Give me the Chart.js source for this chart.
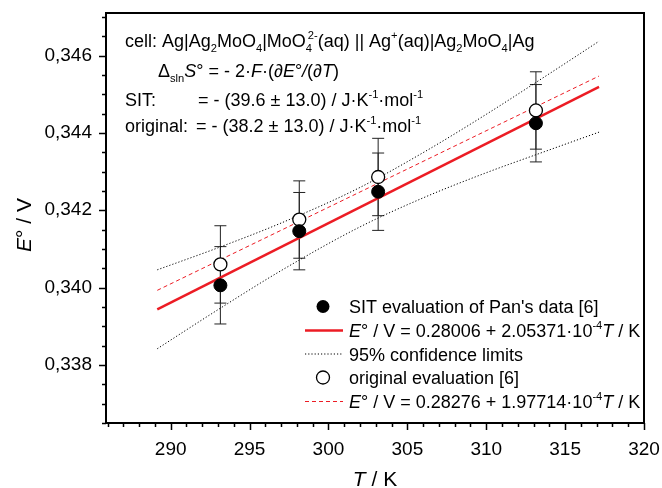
<!DOCTYPE html>
<html><head><meta charset="utf-8">
<script src="https://cdn.jsdelivr.net/npm/chart.js@4.4.0/dist/chart.umd.min.js"></script>
<style>html,body{margin:0;padding:0;background:#fff;}#wrap{width:662px;height:488px;position:relative;}</style>
</head><body><div id="wrap"><canvas id="c" width="662" height="488"></canvas></div>
<script>
// ---- data ----
const temperatures = [293.15, 298.15, 303.15, 313.15];
const eSIT  = [0.34006, 0.34146, 0.34248, 0.34425];
const errSIT = [0.001, 0.001, 0.001, 0.001];
const eOrig = [0.34060, 0.34176, 0.34286, 0.34458];
const errOrig = [0.001, 0.001, 0.001, 0.001];
const fitT = [289.15, 317.15];
const fitSIT  = [0.33944, 0.34519];
const fitOrig = [0.33993, 0.34547];
const confT     = [289.15, 293, 297, 301.9, 306, 310, 314, 317.15];
const confUpper = [0.34046, 0.34103, 0.34167, 0.34257, 0.34349, 0.34448, 0.34553, 0.34637];
const confLower = [0.33842, 0.33943, 0.34044, 0.34155, 0.34232, 0.34297, 0.34356, 0.34402];
const xTickValues = [290, 295, 300, 305, 310, 315, 320];
const yTickValues = [0.338, 0.340, 0.342, 0.344, 0.346];

const FONT = '"Liberation Sans", Arial, sans-serif';
const RED = '#ec1c24';

function pts(xs, ys){ return xs.map((x,i)=>({x:x, y:ys[i]})); }

function drawRich(ctx, x, y, segs, size){
  ctx.save();
  ctx.textBaseline = 'alphabetic';
  ctx.fillStyle = '#000';
  let cx = x;
  for (const s of segs){
    let fs = size, dy = 0;
    if (s.sub){ fs = size*0.62; dy = size*0.30; }
    if (s.sup){ fs = size*0.62; dy = -size*0.45; }
    ctx.font = (s.it ? 'italic ' : '') + fs + 'px ' + FONT;
    ctx.fillText(s.t, cx, y + dy);
    if (!s.stack) cx += ctx.measureText(s.t).width;
    else cx += 2;
  }
  ctx.restore();
  return cx;
}

const framePlugin = {
  id: 'frame',
  beforeDatasetsDraw(chart){
    const ctx = chart.ctx, xs = chart.scales.x, ys = chart.scales.y;
    ctx.save();
    ctx.strokeStyle = '#222';
    ctx.lineWidth = 1;
    const bars = (vals, errs) => {
      temperatures.forEach((t,i)=>{
        const px = xs.getPixelForValue(t);
        const y1 = ys.getPixelForValue(vals[i]+errs[i]);
        const y2 = ys.getPixelForValue(vals[i]-errs[i]);
        ctx.beginPath();
        ctx.moveTo(px, y1); ctx.lineTo(px, y2);
        ctx.moveTo(px-6, y1); ctx.lineTo(px+6, y1);
        ctx.moveTo(px-6, y2); ctx.lineTo(px+6, y2);
        ctx.stroke();
      });
    };
    bars(eSIT, errSIT);
    bars(eOrig, errOrig);
    ctx.restore();
  },
  afterDraw(chart){
    const ctx = chart.ctx, a = chart.chartArea, xs = chart.scales.x, ys = chart.scales.y;
    ctx.save();
    ctx.strokeStyle = '#000';
    ctx.lineWidth = 2;
    ctx.strokeRect(a.left, a.top, a.right - a.left, a.bottom - a.top);
    ctx.lineWidth = 1.5;
    ctx.beginPath();
    for (let t = 286; t <= 320; t++){
      const px = Math.round(xs.getPixelForValue(t)) + 0.5;
      const len = (t % 5 === 0) ? 7 : 4;
      ctx.moveTo(px, a.bottom); ctx.lineTo(px, a.bottom + len);
    }
    for (let k = 0; k <= 21; k++){
      const v = 0.3365 + k*0.0005;
      if (v > 0.3471) break;
      const py = Math.round(ys.getPixelForValue(v)) + 0.5;
      const r = Math.round(v*10000) % 20;
      const len = (r === 0) ? 7 : 4;
      ctx.moveTo(a.left, py); ctx.lineTo(a.left - len, py);
    }
    ctx.stroke();

    ctx.fillStyle = '#000';
    (function(){
      const segs = [{t:'T',it:1},{t:' / K'}];
      let w = 0;
      segs.forEach(s=>{ ctx.font = (s.it?'italic ':'')+'21px '+FONT; w += ctx.measureText(s.t).width; });
      drawRich(ctx, (a.left+a.right)/2 - w/2, 486, segs, 21);
    })();
    (function(){
      const segs = [{t:'E',it:1},{t:'° / V'}];
      let w = 0;
      segs.forEach(s=>{ ctx.font = (s.it?'italic ':'')+'21px '+FONT; w += ctx.measureText(s.t).width; });
      ctx.save();
      ctx.translate(31, 225);
      ctx.rotate(-Math.PI/2);
      drawRich(ctx, -w/2, 0, segs, 21);
      ctx.restore();
    })();

    const S = 18;
    drawRich(ctx, 125, 47, [
      {t:'cell: Ag|Ag'},{t:'2',sub:1},{t:'MoO'},{t:'4',sub:1},{t:'|MoO'},{t:'4',sub:1,stack:1},{t:'2-',sup:1},
      {t:'(aq) || Ag'},{t:'+',sup:1},{t:'(aq)|Ag'},{t:'2',sub:1},{t:'MoO'},{t:'4',sub:1},{t:'|Ag'}
    ], S);
    drawRich(ctx, 158, 77, [
      {t:'Δ'},{t:'sln',sub:1},{t:'S',it:1},{t:'° = - 2·'},{t:'F',it:1},{t:'·(∂'},{t:'E',it:1},{t:'°'},{t:'/',it:1},{t:'(∂'},{t:'T',it:1},{t:')'}
    ], S);
    drawRich(ctx, 125, 106, [{t:'SIT:'}], S);
    drawRich(ctx, 198, 106, [{t:'= - (39.6 ± 13.0) / J·K'},{t:'-1',sup:1},{t:'·mol'},{t:'-1',sup:1}], S);
    drawRich(ctx, 125, 132, [{t:'original:'}], S);
    drawRich(ctx, 196, 132, [{t:'= - (38.2 ± 13.0) / J·K'},{t:'-1',sup:1},{t:'·mol'},{t:'-1',sup:1}], S);

    const rows = [306.5, 330.5, 354, 377.5, 401.5];
    const sx = 323, lx1 = 305, lx2 = 343, tx = 349;
    ctx.fillStyle = '#000';
    ctx.beginPath(); ctx.arc(sx, rows[0], 6.5, 0, Math.PI*2); ctx.fill();
    ctx.strokeStyle = RED; ctx.lineWidth = 2.5; ctx.setLineDash([]);
    ctx.beginPath(); ctx.moveTo(lx1, rows[1]); ctx.lineTo(lx2, rows[1]); ctx.stroke();
    ctx.strokeStyle = '#000'; ctx.lineWidth = 1; ctx.setLineDash([1.2, 2]);
    ctx.beginPath(); ctx.moveTo(lx1, rows[2]); ctx.lineTo(lx2, rows[2]); ctx.stroke();
    ctx.setLineDash([]); ctx.lineWidth = 1.3; ctx.fillStyle = '#fff';
    ctx.beginPath(); ctx.arc(sx, rows[3], 6.5, 0, Math.PI*2); ctx.fill(); ctx.stroke();
    ctx.strokeStyle = RED; ctx.lineWidth = 1; ctx.setLineDash([4, 3]);
    ctx.beginPath(); ctx.moveTo(lx1, rows[4]); ctx.lineTo(lx2, rows[4]); ctx.stroke();
    ctx.setLineDash([]);
    const off = 6.5;
    drawRich(ctx, tx, rows[0]+off, [{t:"SIT evaluation of Pan's data [6]"}], S);
    drawRich(ctx, tx, rows[1]+off, [{t:'E',it:1},{t:'° / V = 0.28006 + 2.05371·10'},{t:'-4',sup:1},{t:'T',it:1},{t:' / K'}], S);
    drawRich(ctx, tx, rows[2]+off, [{t:'95% confidence limits'}], S);
    drawRich(ctx, tx, rows[3]+off, [{t:'original evaluation [6]'}], S);
    drawRich(ctx, tx, rows[4]+off, [{t:'E',it:1},{t:'° / V = 0.28276 + 1.97714·10'},{t:'-4',sup:1},{t:'T',it:1},{t:' / K'}], S);
    ctx.restore();
  }
};

new Chart(document.getElementById('c'), {
  type: 'scatter',
  data: {
    datasets: [
      { label: "SIT evaluation of Pan's data [6]", data: pts(temperatures, eSIT),
        pointRadius: 6.5, pointBackgroundColor: '#000', pointBorderColor: '#000', pointBorderWidth: 1, showLine: false },
      { label: 'original evaluation [6]', data: pts(temperatures, eOrig),
        pointRadius: 6.5, pointBackgroundColor: '#fff', pointBorderColor: '#000', pointBorderWidth: 1.3, showLine: false },
      { label: 'SIT fit', data: pts(fitT, fitSIT), showLine: true, pointRadius: 0,
        borderColor: RED, borderWidth: 2.5 },
      { label: 'original fit', data: pts(fitT, fitOrig), showLine: true, pointRadius: 0,
        borderColor: RED, borderWidth: 1, borderDash: [4, 3] },
      { label: '95% upper', data: pts(confT, confUpper), showLine: true, pointRadius: 0,
        borderColor: '#000', borderWidth: 1, borderDash: [1.2, 2], cubicInterpolationMode: 'monotone' },
      { label: '95% lower', data: pts(confT, confLower), showLine: true, pointRadius: 0,
        borderColor: '#000', borderWidth: 1, borderDash: [1.2, 2], cubicInterpolationMode: 'monotone' }
    ]
  },
  options: {
    responsive: false,
    animation: false,
    devicePixelRatio: 1,
    layout: { padding: { left: 0, top: 13, right: 18, bottom: 0 } },
    plugins: { legend: { display: false }, tooltip: { enabled: false } },
    scales: {
      x: {
        type: 'linear', min: 285.9, max: 320,
        afterBuildTicks: (s) => { s.ticks = xTickValues.map(v => ({ value: v })); },
        afterFit: (s) => { s.height = 65; s.paddingLeft = 0; s.paddingRight = 0; },
        grid: { display: false, drawTicks: false },
        border: { display: false },
        ticks: { color: '#000', font: { family: FONT, size: 19 }, padding: 15, maxRotation: 0,
          callback: (v) => String(v) }
      },
      y: {
        type: 'linear', min: 0.3365, max: 0.3471,
        afterBuildTicks: (s) => { s.ticks = yTickValues.map(v => ({ value: v })); },
        afterFit: (s) => { s.width = 106; s.paddingTop = 0; s.paddingBottom = 0; },
        grid: { display: false, drawTicks: false },
        border: { display: false },
        ticks: { color: '#000', font: { family: FONT, size: 19 }, padding: 14,
          callback: (v) => v.toFixed(3).replace('.', ',') }
      }
    }
  },
  plugins: [framePlugin]
});
</script>
</body></html>
